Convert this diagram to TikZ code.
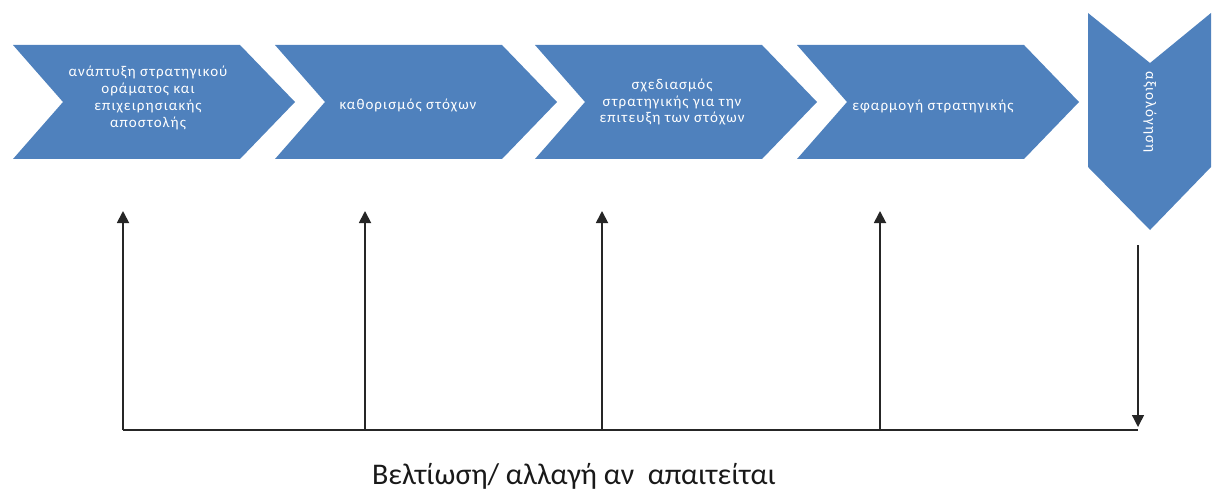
\documentclass[tikz,border=0pt]{standalone}
\usepackage{fontspec}
\setmainfont{Carlito}
\newfontfamily\chevfont[LetterSpace=7]{Carlito}
\usetikzlibrary{arrows.meta}
\definecolor{chevblue}{HTML}{4F81BD}
\begin{document}
\begin{tikzpicture}[x=1pt,y=-1pt,
  chev/.style={fill=chevblue},
  lbl/.style={text=white,font=\chevfont\fontsize{15}{16.8}\selectfont,align=center,inner sep=0pt},
  link/.style={draw=black!85,line width=1.8pt},
  tip/.style={-{Triangle[width=12pt,length=12pt]}}]
\useasboundingbox (0,0) rectangle (1214,497);
% horizontal chevrons
\foreach \L in {13,275,535,797}{
  \fill[chev] (\L,45) -- (\L+227,45) -- (\L+282,102) -- (\L+227,159) -- (\L,159) -- (\L+50,102) -- cycle;
}
% downward chevron
\fill[chev] (1088,13) -- (1150,63) -- (1211,13) -- (1211,167) -- (1150,230) -- (1088,167) -- cycle;
% labels
\node[lbl] (s1) at (148,98) {ανάπτυξη στρατηγικού\\οράματος και\\επιχειρησιακής\\αποστολής};
\node[lbl] (s2) at (408,105) {καθορισμός στόχων};
\node[lbl] (s3) at (672,102) {σχεδιασμός\\στρατηγικής για την\\επιτευξη των στόχων};
\node[lbl] (s4) at (933,106) {εφαρμογή στρατηγικής};
\node[lbl,rotate=-90] (s5) at (1150,112) {αξιολόγηση};
% feedback loop
\coordinate (b1) at (123,430);
\coordinate (b2) at (365,430);
\coordinate (b3) at (602,430);
\coordinate (b4) at (880,430);
\coordinate (b5) at (1138,430);
\coordinate (t1) at (123,211);
\coordinate (t2) at (365,211);
\coordinate (t3) at (602,211);
\coordinate (t4) at (880,211);
\coordinate (t5) at (1138,245);
\coordinate (e5) at (1138,427);
\foreach \i in {1,2,3,4}{\draw[link,tip] (b\i) -- (t\i);}
\draw[link] (b1) -- (b5);
\draw[link,line width=1.4pt,tip] (t5) -- (e5);
\node[font=\fontsize{30}{34}\selectfont,text=black!90] (fb) at (574,476) {Βελτίωση/ αλλαγή αν\ \ απαιτείται};
\end{tikzpicture}
\end{document}
